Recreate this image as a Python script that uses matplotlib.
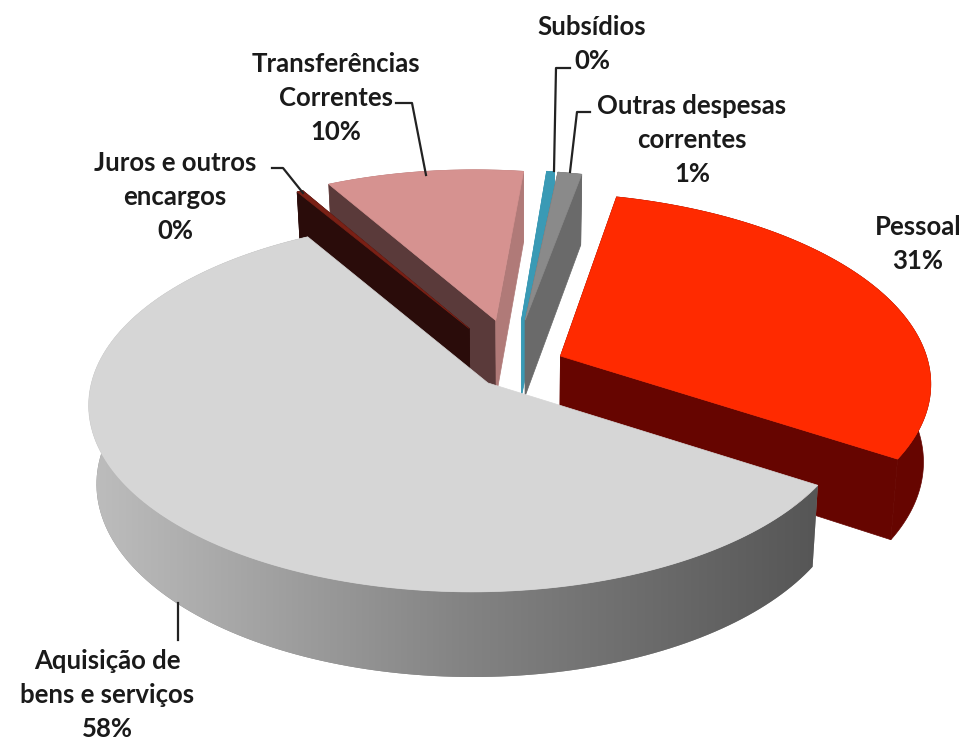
import numpy as np
import matplotlib
matplotlib.use('Agg')
import matplotlib.pyplot as plt
from matplotlib.colors import LinearSegmentedColormap
from matplotlib.patches import Polygon

labels = ['Pessoal', 'Aquisição de\nbens e serviços', 'Juros e outros\nencargos',
          'Transferências\nCorrentes', 'Subsídios', 'Outras despesas\ncorrentes']
values = [31.0, 57.4, 0.3, 9.7, 0.4, 1.2]
pct_labels = ['31%', '58%', '0%', '10%', '0%', '1%']

# styles
explode = [0.12, 0.115, 0.265, 0.285, 0.285, 0.285]
radius = [1.05, 1.008, 1, 1, 1, 1]
nudge_u = [0.005, 0, 0, 0, -0.018, -0.022]
nudge_v = [0.025, 0, 0, 0, 0, 0]
top_colors = ['#ff2a00', '#d6d6d6', '#7a2015', '#d69290', '#3a9ab5', '#8a8a8a']
start_colors = ['#660500', '#555555', '#2a0c0a', '#5a3a3a', '#3a9ab5', '#6a6a6a']
end_colors = ['#660500', '#555555', '#2a0c0a', '#b07a78', '#3a9ab5', '#6a6a6a']
side_colors = ['#660500', '#888888', '#2a0c0a', '#b07a78', '#3a9ab5', '#6a6a6a']
draw_order = [4, 5, 3, 2, 0, 1]
first_angle = 11.0

# where the labels sit, in pixels
label_pos = [(918, 244), (107, 695), (175, 197), (336, 98), (592, 44), (692, 140)]
leaders = [
    [(272, 168), (283, 168), (303, 193)],
    [(396, 103), (412, 103), (426, 175)],
    [(570, 68), (556, 68), (554, 171)],
    [(590, 112), (577, 112), (570, 172)],
    [(178, 603), (178, 640)],
]

# ellipse of the big slice and where the pie's axis lands inside it
ELL_X, ELL_Y, ELL_A, ELL_B = 472, 405, 380, 185
PX, PY = 0.042, 0.119


def project(u, v):
    # perspective map of the unit disc onto the ellipse
    p = np.hypot(PX, PY)
    dx, dy = PX / p, PY / p
    ex, ey = dy, -dx
    par = u * dx + v * dy
    perp = u * ex + v * ey
    den = 1 + p * par
    par2 = (par + p) / den
    perp2 = perp * np.sqrt(1 - p * p) / den
    x = par2 * dx + perp2 * ex
    y = par2 * dy + perp2 * ey
    return ELL_X + ELL_A * x, ELL_Y - ELL_B * y


def drop(x, y):
    # bottom face of the pie
    return 524 + (x - 524) * 0.982, y * 1.034 + 65


fig = plt.figure(figsize=(9.68, 7.41), dpi=100)
ax = fig.add_axes([0, 0, 1, 1])
ax.set_xlim(0, 968)
ax.set_ylim(741, 0)
ax.axis('off')

total = sum(values)
spans = [v / total * 360 for v in values]
starts = [first_angle + sum(spans[:i]) for i in range(len(values))]
mids = [np.radians(s + w / 2) for s, w in zip(starts, spans)]

# pie centre, put so the big slice's point is at plane 0,0
cu = -explode[1] * np.sin(mids[1])
cv = -explode[1] * np.cos(mids[1])


def quad(xa, ya, xb, yb, color, z):
    xs = [xa, xb, drop(xb, yb)[0], drop(xa, ya)[0]]
    ys = [ya, yb, drop(xb, yb)[1], drop(xa, ya)[1]]
    ax.add_patch(Polygon(np.column_stack([xs, ys]), fc=color, ec=color, lw=0.5, zorder=z))


z = 1
for i in draw_order:
    au = cu + explode[i] * np.sin(mids[i]) + nudge_u[i]
    av = cv + explode[i] * np.cos(mids[i]) + nudge_v[i]
    th = np.radians(np.linspace(starts[i], starts[i] + spans[i], 160))
    ax0, ay0 = project(au, av)
    xs, ys = project(au + radius[i] * np.sin(th), av + radius[i] * np.cos(th))
    bx, by = drop(xs, ys)

    # outer wall
    wall = np.column_stack([np.r_[xs, bx[::-1]], np.r_[ys, by[::-1]]])
    wall_patch = Polygon(wall, fc=side_colors[i], ec=side_colors[i], lw=0.5, zorder=z)
    ax.add_patch(wall_patch)
    if i == 1:
        wall_patch.set_edgecolor('none')
        grad = np.linspace(0, 1, 256).reshape(1, -1)
        im = ax.imshow(grad, extent=(92, 825, 741, 0), aspect='auto', zorder=z,
                       cmap=LinearSegmentedColormap.from_list(
                           'side', ['#bdbdbd', '#848484', '#555555']))
        im.set_clip_path(wall_patch)
        ax.set_xlim(0, 968)
        ax.set_ylim(741, 0)
    else:
        # the two cut faces, the big slice's are hidden under its top
        quad(ax0, ay0, xs[0], ys[0], start_colors[i], z + 0.1)
        quad(ax0, ay0, xs[-1], ys[-1], end_colors[i], z + 0.2)

    # top
    top = np.column_stack([np.r_[ax0, xs], np.r_[ay0, ys]])
    ax.add_patch(Polygon(top, fc=top_colors[i], ec=top_colors[i], lw=0.5, zorder=z + 0.3))
    z += 1

for pts in leaders:
    ax.plot([p[0] for p in pts], [p[1] for p in pts], color='#222222', lw=1.6, zorder=20)

for name, pct, pos in zip(labels, pct_labels, label_pos):
    ax.text(pos[0], pos[1], name + '\n' + pct, ha='center', va='center', fontsize=18.5,
            family='Lato', fontweight='bold', color='#1a1a1a', linespacing=1.5, zorder=21)

fig.savefig('out.png', dpi=100)
